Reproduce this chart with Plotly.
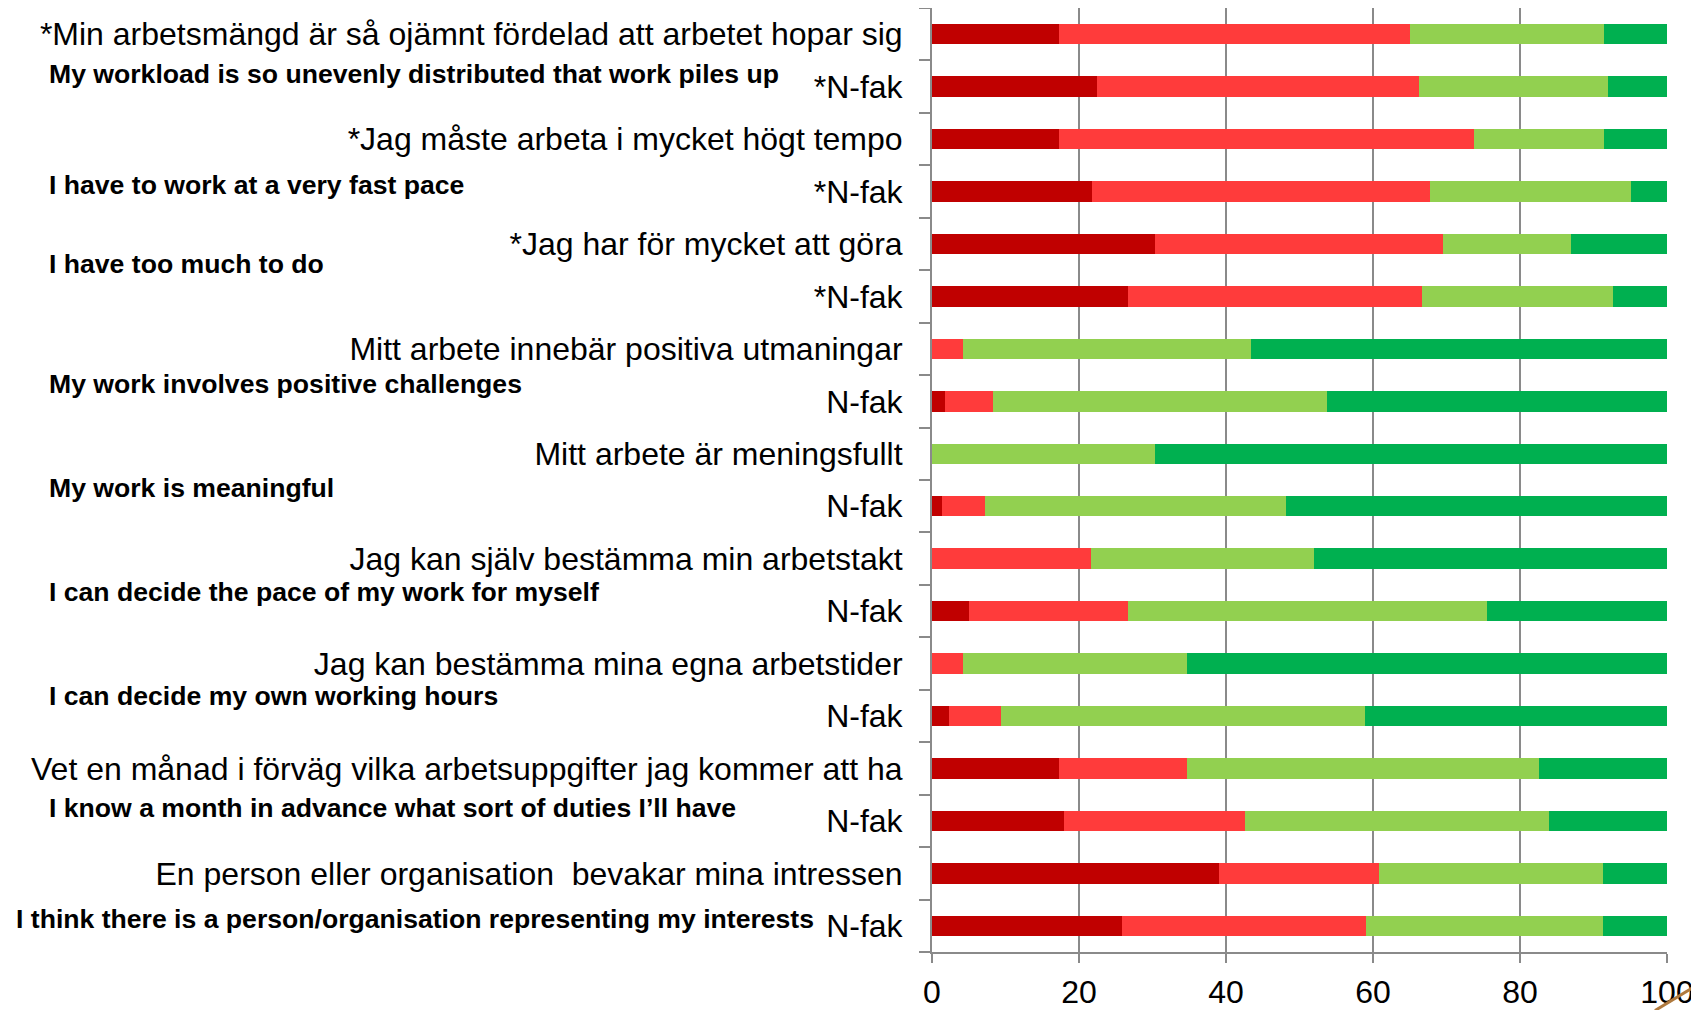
"""Stacked horizontal bars: work environment survey, faculty vs N-fak."""

import plotly.graph_objects as go

labels_sv = [
    "*Min arbetsmängd är så ojämnt fördelad att arbetet hopar sig",
    "*N-fak",
    "*Jag måste arbeta i mycket högt tempo",
    "*N-fak",
    "*Jag har för mycket att göra",
    "*N-fak",
    "Mitt arbete innebär positiva utmaningar",
    "N-fak",
    "Mitt arbete är meningsfullt",
    "N-fak",
    "Jag kan själv bestämma min arbetstakt",
    "N-fak",
    "Jag kan bestämma mina egna arbetstider",
    "N-fak",
    "Vet en månad i förväg vilka arbetsuppgifter jag kommer att ha",
    "N-fak",
    "En person eller organisation  bevakar mina intressen",
    "N-fak",
]

labels_en = [
    "My workload is so unevenly distributed that work piles up",
    "I have to work at a very fast pace",
    "I have too much to do",
    "My work involves positive challenges",
    "My work is meaningful",
    "I can decide the pace of my work for myself",
    "I can decide my own working hours",
    "I know a month in advance what sort of duties I\u2019ll have",
    "I think there is a person/organisation representing my interests",
]

dark_red = [17.3, 22.5, 17.3, 21.8, 30.3, 26.6, 0, 1.7, 0, 1.3, 0, 5.1, 0, 2.3, 17.3, 17.9, 39.0, 25.9]
red = [47.8, 43.8, 56.5, 46.0, 39.2, 40.1, 4.2, 6.6, 0, 5.9, 21.6, 21.6, 4.2, 7.1, 17.4, 24.7, 21.8, 33.1]
light_green = [26.3, 25.7, 17.6, 27.3, 17.5, 25.9, 39.2, 45.4, 30.4, 41.0, 30.4, 48.8, 30.5, 49.5, 47.9, 41.3, 30.5, 32.3]
dark_green = [8.6, 8.0, 8.6, 4.9, 13.0, 7.4, 56.6, 46.3, 69.6, 51.8, 48.0, 24.5, 65.3, 41.1, 17.4, 16.1, 8.7, 8.7]

x_ticks = [0, 20, 40, 60, 80, 100]

FONT = "Liberation Sans, Arial, sans-serif"
GREY = "#8a8a8a"

rows = list(range(len(labels_sv)))

fig = go.Figure()
for name, vals, color in [
    ("Stämmer inte alls", dark_red, "#C00000"),
    ("Stämmer ganska dåligt", red, "#FF3B3B"),
    ("Stämmer ganska bra", light_green, "#92D050"),
    ("Stämmer helt", dark_green, "#00B050"),
]:
    fig.add_trace(
        go.Bar(
            x=vals,
            y=rows,
            orientation="h",
            name=name,
            marker=dict(color=color, line=dict(width=0)),
            width=0.39,
            showlegend=False,
        )
    )

# English translations sit between the two rows of each question
en_y = [0.76, 2.87, 4.38, 6.67, 8.65, 10.63, 12.61, 14.76, 16.88]
en_x = [-1.204] * 8 + [-1.249]
for text, x, y in zip(labels_en, en_x, en_y):
    fig.add_annotation(
        text=f"<b>{text}</b>",
        x=x,
        xref="paper",
        y=y,
        yref="y",
        xanchor="left",
        yanchor="middle",
        showarrow=False,
        font=dict(family=FONT, size=26.6, color="black"),
    )

# small decorative stroke in the bottom right corner of the slide
fig.add_shape(
    type="line",
    xref="paper",
    yref="paper",
    x0=0.9837,
    y0=-0.062,
    x1=1.0517,
    y1=-0.030,
    line=dict(color="#B07A3E", width=3),
)

# page body has an 8px margin, so the figure is 8px smaller than the window
fig.update_layout(
    width=1691,
    height=1002,
    margin=dict(l=924, r=32, t=0, b=54),
    barmode="stack",
    plot_bgcolor="white",
    paper_bgcolor="white",
    font=dict(family=FONT, color="black"),
    xaxis=dict(
        range=[0, 100],
        tickvals=x_ticks,
        showgrid=True,
        gridcolor=GREY,
        gridwidth=2,
        zeroline=False,
        showline=True,
        linecolor=GREY,
        linewidth=2,
        ticks="outside",
        ticklen=9,
        tickwidth=2,
        tickcolor=GREY,
        ticklabelstandoff=2,
        tickfont=dict(size=32, color="black"),
    ),
    yaxis=dict(
        range=[17.5, -0.5],
        tickmode="array",
        tickvals=rows,
        ticktext=labels_sv,
        ticks="",
        ticklabelstandoff=21,
        tickfont=dict(size=32, color="black"),
        showgrid=False,
        zeroline=False,
        showline=True,
        linecolor=GREY,
        linewidth=2,
        minor=dict(
            ticks="outside",
            tickmode="linear",
            tick0=-0.5,
            dtick=1,
            ticklen=11,
            tickwidth=2,
            tickcolor=GREY,
            showgrid=False,
        ),
    ),
)

fig.write_html("out.html")
